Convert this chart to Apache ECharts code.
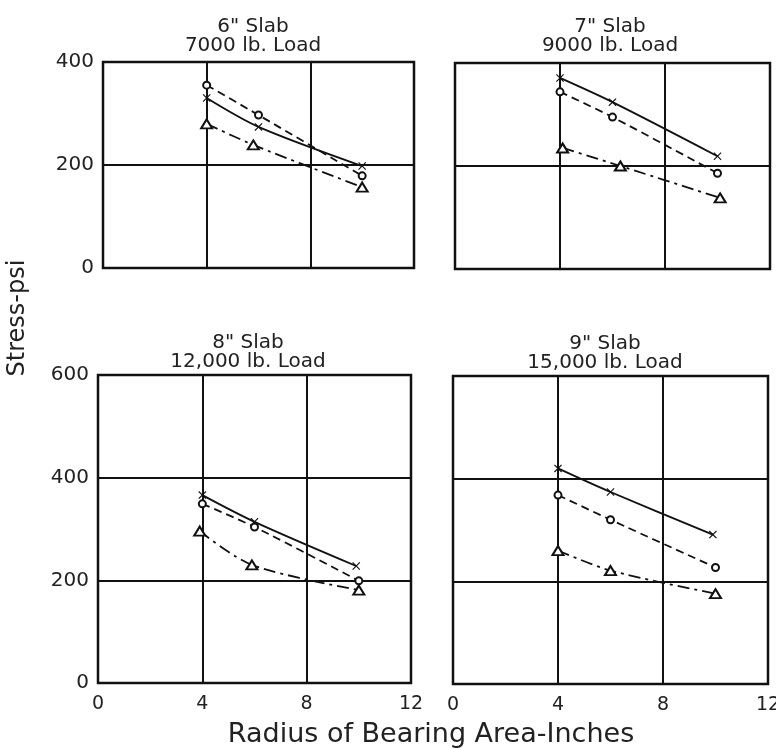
<!DOCTYPE html>
<html>
<head>
<meta charset="utf-8">
<script src="https://cdn.jsdelivr.net/npm/echarts@6/dist/echarts.min.js"></script>
<style>
html,body{margin:0;padding:0;background:#fff}
#chart{width:776px;height:748px}
</style>
</head>
<body>
<div id="chart"></div>
<script>
// panel titles
var panelTitles = ['6" Slab\n7000 lb. Load', '7" Slab\n9000 lb. Load', '8" Slab\n12,000 lb. Load', '9" Slab\n15,000 lb. Load'];

// radius (in.) and stress (psi)
var r6Cross = [4, 6, 10],    s6Cross = [330, 274, 198];
var r6Circle = [4, 6, 10],   s6Circle = [355, 297, 179];
var r6Tri = [4, 5.8, 10],    s6Tri = [280, 239, 157];

var r7Cross = [4, 6, 10],    s7Cross = [371, 324, 219];
var r7Circle = [4, 6, 10],   s7Circle = [344, 295, 186];
var r7Tri = [4.1, 6.3, 10.1], s7Tri = [235, 200, 138];

var r8Cross = [4, 6, 9.9],   s8Cross = [366, 314, 228];
var r8Circle = [4, 6, 10],   s8Circle = [349, 304, 199];
var r8Tri = [3.9, 5.9, 10],  s8Tri = [296, 230, 181];

var r9Cross = [4, 6, 9.9],   s9Cross = [420, 374, 291];
var r9Circle = [4, 6, 10],   s9Circle = [368, 320, 227];
var r9Tri = [4, 6, 10],      s9Tri = [260, 221, 176];

var FONT = 'DejaVu Sans';
var crossPath = 'path://M0,1L1,0L5,4L9,0L10,1L6,5L10,9L9,10L5,6L1,10L0,9L4,5Z';

function pts(r, s){ return r.map(function(v,i){ return [v, s[i]]; }); }

var panels = [
  {grid:{left:103,top:62,width:311,height:206}, ymax:400, yLab:true, xLab:false, tx:253, ty:17,
   cross:pts(r6Cross,s6Cross), circle:pts(r6Circle,s6Circle), tri:pts(r6Tri,s6Tri)},
  {grid:{left:455,top:63,width:315,height:206}, ymax:400, yLab:false, xLab:false, tx:610, ty:17,
   cross:pts(r7Cross,s7Cross), circle:pts(r7Circle,s7Circle), tri:pts(r7Tri,s7Tri)},
  {grid:{left:98,top:375,width:313,height:308}, ymax:600, yLab:true, xLab:true, tx:248, ty:333,
   cross:pts(r8Cross,s8Cross), circle:pts(r8Circle,s8Circle), tri:pts(r8Tri,s8Tri)},
  {grid:{left:453,top:376,width:315,height:308}, ymax:600, yLab:false, xLab:true, tx:605, ty:334,
   cross:pts(r9Cross,s9Cross), circle:pts(r9Circle,s9Circle), tri:pts(r9Tri,s9Tri)}
];

var grids=[], xAxes=[], yAxes=[], series=[], titles=[];
panels.forEach(function(p,i){
  grids.push(Object.assign({show:true, borderColor:'#111', borderWidth:2.5, backgroundColor:'#fff',
    outerBoundsMode:'none'}, p.grid));
  xAxes.push({gridIndex:i, type:'value', min:0, max:12, interval:4,
    axisLine:{show:false}, axisTick:{show:false},
    axisLabel:{show:p.xLab, color:'#222', fontFamily:FONT, fontSize:19, margin:12},
    splitLine:{show:true, lineStyle:{color:'#111', width:2}}});
  yAxes.push({gridIndex:i, type:'value', min:0, max:p.ymax, interval:200,
    axisLine:{show:false}, axisTick:{show:false},
    axisLabel:{show:p.yLab, color:'#222', fontFamily:FONT, fontSize:20, margin:9},
    splitLine:{show:true, lineStyle:{color:'#111', width:2}}});
  titles.push({text:panelTitles[i], left:p.tx, top:p.ty, textAlign:'center', padding:0,
    textStyle:{fontFamily:FONT, fontWeight:'normal', fontSize:20, lineHeight:19, color:'#222'}});
  var base = {type:'line', xAxisIndex:i, yAxisIndex:i, smooth:0.3, color:'#111', z:5};
  series.push(Object.assign({}, base, {data:p.cross, symbol:crossPath, symbolSize:8,
    lineStyle:{color:'#111', width:1.8}, itemStyle:{color:'#111'}}));
  series.push(Object.assign({}, base, {data:p.circle, symbol:'emptyCircle', symbolSize:7,
    lineStyle:{color:'#111', width:1.8, type:[8,5]}, itemStyle:{color:'#111', borderWidth:1.6}}));
  series.push(Object.assign({}, base, {data:p.tri, symbol:'emptyTriangle', symbolSize:[11,9],
    lineStyle:{color:'#111', width:1.8, type:[12,5,3,5]}, itemStyle:{color:'#111', borderWidth:1.6}}));
});

var chart = echarts.init(document.getElementById('chart'), null, {renderer:'canvas'});
chart.setOption({
  animation:false,
  backgroundColor:'#fff',
  title:titles,
  grid:grids, xAxis:xAxes, yAxis:yAxes, series:series,
  graphic:[
    {type:'text', x:6, y:318, rotation:Math.PI/2,
     style:{text:'Stress-psi', font:'24px "DejaVu Sans"', fill:'#222', textAlign:'center', textVerticalAlign:'top'}},
    {type:'text', x:431, y:735,
     style:{text:'Radius of Bearing Area-Inches', font:'27px "DejaVu Sans"', fill:'#222', textAlign:'center', textVerticalAlign:'middle'}}
  ]
});
</script>
</body>
</html>
